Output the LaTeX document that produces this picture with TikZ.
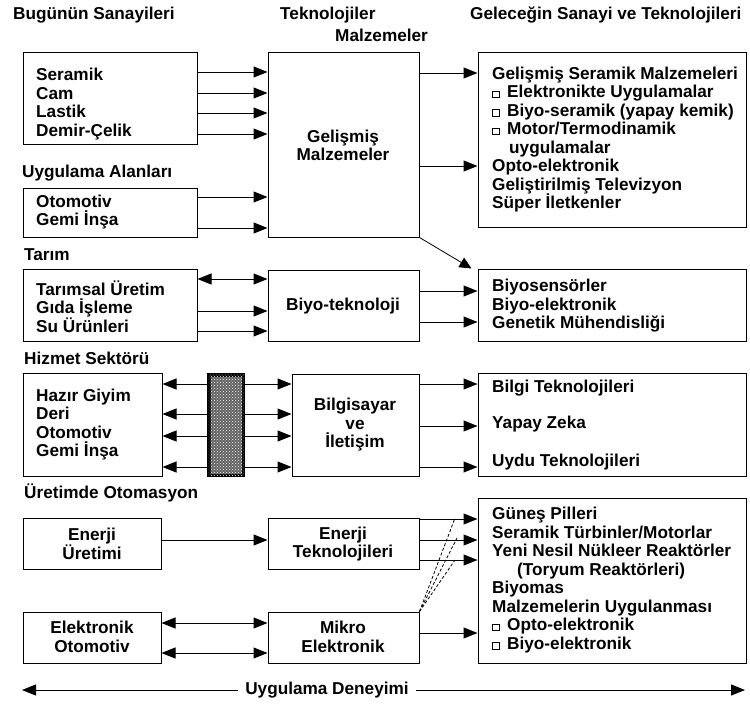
\documentclass[tikz,border=0pt]{standalone}
\usepackage{fontspec}
\setmainfont{Liberation Sans}
\usetikzlibrary{arrows.meta,fit,patterns}

% small open square used as a list bullet
\newcommand{\sqmark}{\makebox[15pt][l]{\raisebox{0.5pt}{\setlength{\fboxsep}{0pt}\setlength{\fboxrule}{0.9pt}\fbox{\phantom{\rule{5.5pt}{5.5pt}}}}}}

\begin{document}
\begin{tikzpicture}[x=1pt,y=-1pt,
  every node/.style={font=\bfseries\fontsize{17.2}{18.5}\selectfont},
  box/.style={draw, line width=1pt, inner sep=0pt},
  lbl/.style={inner sep=0pt, anchor=west, align=left},
  ctr/.style={inner sep=0pt, align=center},
  tip/.style={Triangle[length=14pt,width=11pt]},
  arr/.style={line width=1pt, -{Triangle[length=14pt,width=11pt]}},
  darr/.style={line width=1pt, {Triangle[length=14pt,width=11pt]}-{Triangle[length=14pt,width=11pt]}},
  dashln/.style={line width=0.8pt, dash pattern=on 3pt off 2pt},
]
\useasboundingbox (0,0) rectangle (750,705);

% column headings
\node[lbl] (h1) at (13,15) {Bugünün Sanayileri};
\node[lbl] (h2) at (280,15) {Teknolojiler};
\node[lbl] (h3) at (335,35) {Malzemeler};
\node[lbl] (h4) at (470,15) {Geleceğin Sanayi ve Teknolojileri};

% section headings
\node[lbl] (s1) at (22,173) {Uygulama Alanları};
\node[lbl] (s2) at (24,255) {Tarım};
\node[lbl] (s3) at (24,358) {Hizmet Sektörü};
\node[lbl] (s4) at (24,493) {Üretimde Otomasyon};

% boxes
\node[box, fit={(23,52) (197,144)}] (bs) {};
\node[box, fit={(23,188) (197,237)}] (ua) {};
\node[box, fit={(268,52) (419,237)}] (gm) {};
\node[box, fit={(478,52) (746,227)}] (r1) {};

\node[box, fit={(23,269) (197,341)}] (ta) {};
\node[box, fit={(268,270) (419,341)}] (bt) {};
\node[box, fit={(478,269) (746,341)}] (r2) {};

\node[box, fit={(23,373) (162,476)}] (hz) {};
\node[box, fit={(292,374) (419,476)}] (bi) {};
\node[box, fit={(478,373) (746,476)}] (r3) {};

\node[box, fit={(23,518) (161,569)}] (eu) {};
\node[box, fit={(268,518) (419,569)}] (et) {};
\node[box, fit={(23,612) (161,663)}] (eo) {};
\node[box, fit={(268,612) (419,663)}] (me) {};
\node[box, fit={(478,498) (746,663)}] (r4) {};

% box texts
\node[lbl] (tbs) at (36,104) {Seramik\\Cam\\Lastik\\Demir-Çelik};
\node[lbl] (tua) at (36,212) {Otomotiv\\Gemi İnşa};
\node[ctr] (tgm) at (343,145.5) {Gelişmiş\\Malzemeler};
\node[lbl] (tr1) at (492,139.5) {Gelişmiş Seramik Malzemeleri\\\sqmark Elektronikte Uygulamalar\\\sqmark Biyo-seramik (yapay kemik)\\\sqmark Motor/Termodinamik\\\hspace*{17pt}uygulamalar\\Opto-elektronik\\Geliştirilmiş Televizyon\\Süper İletkenler};

\node[lbl] (tta) at (36,306.5) {Tarımsal Üretim\\Gıda İşleme\\Su Ürünleri};
\node[ctr] (tbt) at (343,306) {Biyo-teknoloji};
\node[lbl] (tr2) at (492,306) {Biyosensörler\\Biyo-elektronik\\Genetik Mühendisliği};

\node[lbl] (thz) at (36,424.5) {Hazır Giyim\\Deri\\Otomotiv\\Gemi İnşa};
\node[ctr] (tbi) at (355,425) {Bilgisayar\\ve\\İletişim};
\node[lbl] (tr3a) at (492,388) {Bilgi Teknolojileri};
\node[lbl] (tr3b) at (492,424) {Yapay Zeka};
\node[lbl] (tr3c) at (492,462) {Uydu Teknolojileri};

\node[ctr] (teu) at (92,544) {Enerji\\Üretimi};
\node[ctr] (tet) at (343,544) {Enerji\\Teknolojileri};
\node[ctr] (teo) at (92,637) {Elektronik\\Otomotiv};
\node[ctr] (tme) at (343,637) {Mikro\\Elektronik};
\node[lbl] (tr4) at (492,580) {Güneş Pilleri\\Seramik Türbinler/Motorlar\\Yeni Nesil Nükleer Reaktörler\\\hspace*{25pt}(Toryum Reaktörleri)\\Biyomas\\Malzemelerin Uygulanması\\\sqmark Opto-elektronik\\\sqmark Biyo-elektronik};

% connectors: advanced materials
\foreach \y in {72,93,113,134} \draw[arr] (bs.east |- 0,\y) -- (gm.west |- 0,\y);
\foreach \y in {197,228} \draw[arr] (ua.east |- 0,\y) -- (gm.west |- 0,\y);
\foreach \y in {73,166} \draw[arr] (gm.east |- 0,\y) -- (r1.west |- 0,\y);
\draw[line width=0.8pt, -{Triangle[length=12pt,width=11pt]}] (gm.south east) -- ([xshift=-6pt]r2.north west);

% connectors: biotechnology
\draw[darr] (ta.east |- 0,279) -- (bt.west |- 0,279);
\foreach \y in {311,331} \draw[arr] (ta.east |- 0,\y) -- (bt.west |- 0,\y);
\foreach \y in {291,322} \draw[arr] (bt.east |- 0,\y) -- (r2.west |- 0,\y);

% connectors: computing and communication
\foreach \y in {384,414,436,467} \draw[darr] (hz.east |- 0,\y) -- (bi.west |- 0,\y);
\node[draw, line width=3.5pt, inner sep=0pt, fill=black!62,
      postaction={pattern=crosshatch dots, pattern color=white},
      fit={(208.75,374.75) (243.25,475.25)}] (hb) {};
\foreach \y in {384,426,467} \draw[arr] (bi.east |- 0,\y) -- (r3.west |- 0,\y);

% connectors: energy and microelectronics
\draw[arr] (eu.east |- 0,540) -- (et.west |- 0,540);
\foreach \y in {519,540,560} \draw[arr] (et.east |- 0,\y) -- (r4.west |- 0,\y);
\foreach \y in {623,653} \draw[darr] (eo.east |- 0,\y) -- (me.west |- 0,\y);
\draw[arr] (me.east |- 0,633) -- (r4.west |- 0,633);
\coordinate (d1) at (455,518);
\coordinate (d2) at (457,538);
\coordinate (d3) at (455,560);
\foreach \d in {d1,d2,d3} \draw[dashln] (me.north east) -- (\d);

% experience axis
\node[ctr, inner xsep=7pt] (ud) at (327,690) {Uygulama Deneyimi};
\coordinate (ul) at (22,690);
\coordinate (ur) at (745,690);
\draw[arr] (ud.west) -- (ul);
\draw[arr] (ud.east) -- (ur);
\end{tikzpicture}
\end{document}
